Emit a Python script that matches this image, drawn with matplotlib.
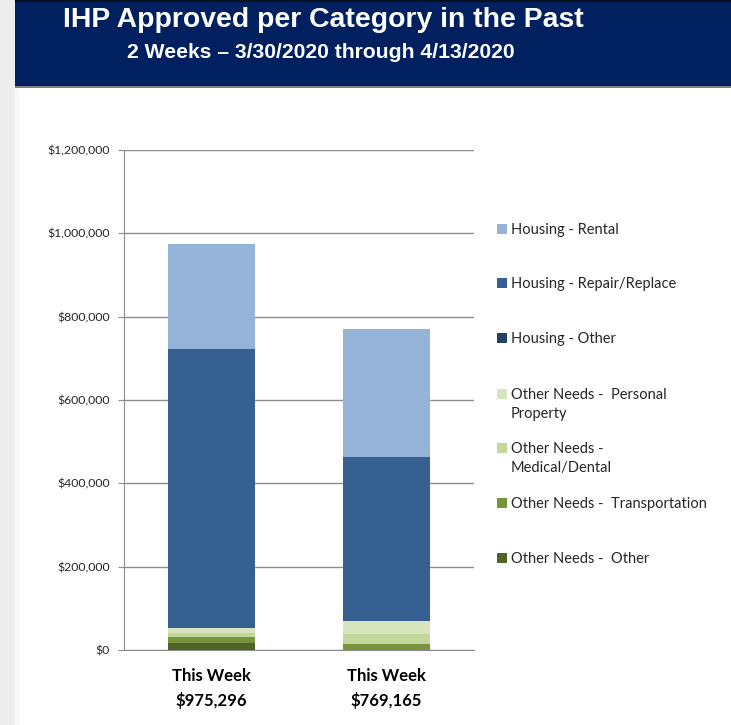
import matplotlib
matplotlib.use("Agg")
import matplotlib.pyplot as plt
from matplotlib.patches import Rectangle
from matplotlib.ticker import FuncFormatter

# data
bar_labels = ["This Week\n$975,296", "This Week\n$769,165"]
categories = ["Other Needs -  Other", "Other Needs -  Transportation",
              "Other Needs -\nMedical/Dental", "Other Needs -  Personal\nProperty",
              "Housing - Other", "Housing - Repair/Replace", "Housing - Rental"]
other_needs_other = [17000, 500]
transportation = [14000, 14400]
medical_dental = [10000, 24000]
personal_property = [12000, 30400]
housing_other = [500, 300]
repair_replace = [669000, 393900]
rental = [252796, 306165]
yticks = [0, 200000, 400000, 600000, 800000, 1000000, 1200000]

colors = ["#4F6228", "#77933C", "#C3D69B", "#D7E4BD", "#254061", "#376092", "#95B3D7"]
series = [other_needs_other, transportation, medical_dental, personal_property,
          housing_other, repair_replace, rental]

head_font = "Liberation Sans"
body_font = ["Lato", "DejaVu Sans"]

W, H = 731, 725
fig = plt.figure(figsize=(W / 100, H / 100), dpi=100)


def px_rect(x0, y0, w, h, color, z=0):
    # rectangle given in pixels from the top-left corner
    fig.patches.append(Rectangle((x0 / W, 1 - (y0 + h) / H), w / W, h / H,
                                 transform=fig.transFigure, facecolor=color,
                                 edgecolor="none", zorder=z))


# page background bits: left gray strip and navy header
px_rect(0, 0, 15, H, "#EDEDED")
px_rect(15, 88, 4, H, "#F7F7F7")
px_rect(15, 0, W, 87, "#002060")
px_rect(15, 0, W, 2, "#0A0F1E")
px_rect(15, 86, W, 2, "#7F7F7F")
fig.text(63 / W, 1 - 20 / H, "IHP Approved per Category in the Past", color="white",
         fontsize=20.4, fontweight="bold", family=head_font, va="center", ha="left")
fig.text(127 / W, 1 - 52.5 / H, "2 Weeks \u2013 3/30/2020 through 4/13/2020", color="white",
         fontsize=15.2, fontweight="bold", family=head_font, va="center", ha="left")

ax = fig.add_axes([124 / W, 75 / H, 350 / W, 500 / H])
x = [0, 1]
bottom = [0, 0]
for vals, c, name in zip(series, colors, categories):
    ax.bar(x, vals, width=0.5, bottom=bottom, color=c, label=name, zorder=3)
    bottom = [b + v for b, v in zip(bottom, vals)]

ax.set_xlim(-0.5, 1.5)
ax.set_ylim(0, 1200000)
ax.set_yticks(yticks)
ax.yaxis.set_major_formatter(FuncFormatter(lambda v, p: "${:,.0f}".format(v)))
ax.grid(axis="y", color="#8C8C8C", linewidth=1, zorder=0)
for s in ["top", "right"]:
    ax.spines[s].set_visible(False)
for s in ["left", "bottom"]:
    ax.spines[s].set_color("#8C8C8C")
ax.tick_params(axis="y", length=4, color="#8C8C8C", labelsize=8.8, pad=6)
for lab in ax.get_yticklabels():
    lab.set_family(body_font)
    lab.set_color("#262626")
ax.set_xticks(x)
ax.set_xticklabels(bar_labels, fontsize=12, fontweight="bold", family=body_font,
                   linespacing=1.6)
ax.tick_params(axis="x", length=0, pad=13)

# legend, drawn by hand so squares sit on the first line of each entry
first_lines = [229, 283, 338, 394, 448, 503, 558]
for yc, name, c in zip(first_lines, categories[::-1], colors[::-1]):
    px_rect(497, yc - 5, 10, 10, c, z=2)
    for j, line in enumerate(name.split("\n")):
        fig.text(511 / W, 1 - (yc + 19 * j + 5) / H, line, fontsize=10.5,
                 family=body_font, color="#262626", va="baseline", ha="left")

fig.savefig("out.png", dpi=100)
